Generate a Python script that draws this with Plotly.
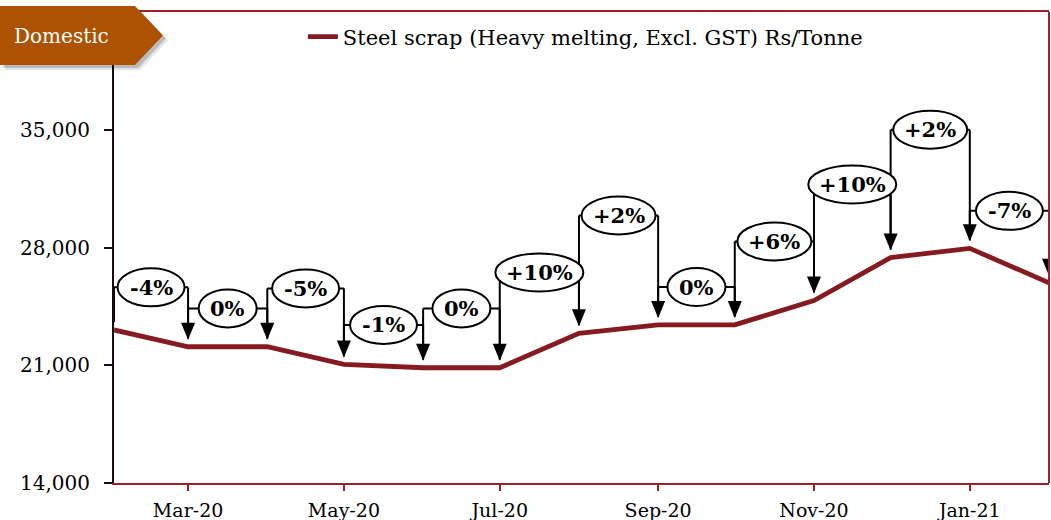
import plotly.graph_objects as go
import pandas as pd

# ---------------- data ----------------
months = ['2020-02-01', '2020-03-01', '2020-04-01', '2020-05-01', '2020-06-01',
          '2020-07-01', '2020-08-01', '2020-09-01', '2020-10-01', '2020-11-01',
          '2020-12-01', '2021-01-01', '2021-02-01']
prices = [23100, 22100, 22100, 21050, 20850, 20850, 22900, 23400, 23400,
          24850, 27400, 27950, 25900]
change_labels = ['-4%', '0%', '-5%', '-1%', '0%', '+10%', '+2%', '0%',
                 '+6%', '+10%', '+2%', '-7%']
label_levels = [25630, 24380, 25570, 23400, 24380, 26520, 29900, 25650,
                28360, 31750, 35000, 30180]
series_name = 'Steel scrap (Heavy melting, Excl. GST) Rs/Tonne'
y_ticks = [14000, 21000, 28000, 35000]
panel_title = 'Domestic'

# ---------------- styling constants ----------------
FONT = 'DejaVu Serif'
LINE_RED = '#861a21'
AXIS_RED = '#9c2128'
ORANGE = '#ad5200'
Y_MIN, Y_MAX = 14000, 42000
W, H = 1051, 520
M_L, M_R, M_T, M_B = 114, 2, 12, 37
PLOT_H = H - M_T - M_B
PLOT_W = W - M_L - M_R
u = (Y_MAX - Y_MIN) / PLOT_H  # data units per pixel

dates = pd.to_datetime(months)


def ds(t):
    return t.strftime('%Y-%m-%d %H:%M:%S')


char_w = {'+': 16, '-': 9, '%': 20}


def ell_width(s):
    return 24 + sum(char_w.get(c, 14) for c in s)


fig = go.Figure()
fig.add_trace(go.Scatter(x=[ds(d) for d in dates], y=prices, mode='lines',
                         name=series_name,
                         line=dict(color=LINE_RED, width=4.8)))

lines, ellipses, heads, annots = [], [], [], []
blk = dict(color='black', width=2)
for i, lab in enumerate(change_labels):
    x0, x1 = dates[i], dates[i + 1]
    mid = x0 + (x1 - x0) / 2
    lvl = label_levels[i]
    lines.append(dict(type='line', xref='x', yref='y', x0=ds(x0), x1=ds(x1),
                      y0=lvl, y1=lvl, line=blk, layer='above'))
    lines.append(dict(type='line', xref='x', yref='y', x0=ds(x0), x1=ds(x0),
                      y0=lvl, y1=prices[i] + 8 * u, line=blk, layer='above'))
    lines.append(dict(type='line', xref='x', yref='y', x0=ds(x1), x1=ds(x1),
                      y0=lvl, y1=prices[i + 1] + 20 * u, line=blk, layer='above'))
    w = ell_width(lab)
    ellipses.append(dict(type='circle', xref='x', yref='y',
                         xsizemode='pixel', ysizemode='pixel',
                         xanchor=ds(mid), yanchor=lvl,
                         x0=-w / 2, x1=w / 2, y0=-19, y1=19,
                         fillcolor='white',
                         line=dict(color='black', width=2), layer='above'))
    heads.append(dict(type='path', xref='x', yref='y',
                      xsizemode='pixel', ysizemode='pixel',
                      xanchor=ds(x1), yanchor=prices[i + 1],
                      path='M -7,24 L 7,24 L 0,7 Z',
                      fillcolor='black', line=dict(width=0), layer='above'))
    annots.append(dict(x=ds(mid), y=lvl, xref='x', yref='y',
                       xanchor='center', yanchor='middle',
                       text=f'<b>{lab}</b>', showarrow=False,
                       font=dict(family=FONT, size=21, color='black')))

# Domestic tag with a soft shadow
tag = []
for dx, dy, op in [(5, -5, 0.10), (3, -3, 0.18)]:
    tag.append(dict(type='path', xref='paper', yref='paper',
                    xsizemode='pixel', ysizemode='pixel', xanchor=0, yanchor=1,
                    path=f'M {-114+dx},{6+dy} L {21+dx},{6+dy} L {49+dx},{-23.5+dy} '
                         f'L {21+dx},{-53+dy} L {-114+dx},{-53+dy} Z',
                    fillcolor=f'rgba(0,0,0,{op})', line=dict(width=0), layer='above'))
tag.append(dict(type='path', xref='paper', yref='paper',
                xsizemode='pixel', ysizemode='pixel', xanchor=0, yanchor=1,
                path='M -114,6 L 21,6 L 49,-23.5 L 21,-53 L -114,-53 Z',
                fillcolor=ORANGE, line=dict(width=0), layer='above'))

border = [dict(type='line', xref='paper', yref='paper', x0=1, x1=1, y0=0, y1=1,
               line=dict(color=AXIS_RED, width=2), layer='above')]

annots.append(dict(xref='paper', yref='paper', x=(61 - M_L) / PLOT_W,
                   y=(H - M_B - 36) / PLOT_H, xanchor='center', yanchor='middle',
                   text=panel_title, showarrow=False,
                   font=dict(family=FONT, size=20, color='white')))

fig.update_layout(
    width=W, height=H,
    margin=dict(l=M_L, r=M_R, t=M_T, b=M_B),
    paper_bgcolor='white', plot_bgcolor='white',
    font=dict(family=FONT, size=20, color='black'),
    shapes=lines + ellipses + heads + border + tag,
    annotations=annots,
    showlegend=True,
    legend=dict(orientation='h', x=0.202, y=(H - M_B - 37) / PLOT_H,
                xanchor='left', yanchor='middle', bgcolor='rgba(0,0,0,0)',
                font=dict(family=FONT, size=21, color='black')),
    xaxis=dict(type='date', range=[months[0], months[-1]],
               tick0='2020-03-01', dtick='M2', tickformat='%b-%y',
               showgrid=False, zeroline=False, automargin=False,
               showline=True, linecolor=AXIS_RED, linewidth=2, mirror=True,
               ticks='outside', ticklen=6, tickwidth=2, tickcolor=AXIS_RED,
               ticklabelstandoff=3,
               tickfont=dict(family=FONT, size=19, color='black')),
    yaxis=dict(range=[Y_MIN, Y_MAX], tickvals=y_ticks, tickformat=',d',
               showgrid=False, zeroline=False, automargin=False,
               showline=True, linecolor='#1a0a0a', linewidth=2,
               ticks='outside', ticklen=8, tickwidth=1.5, tickcolor='#1a0a0a',
               ticklabelstandoff=10,
               tickfont=dict(family=FONT, size=20, color='black')),
)

fig.write_html('out.html', config={'displayModeBar': False},
               post_script="document.body.style.margin='0px';")
